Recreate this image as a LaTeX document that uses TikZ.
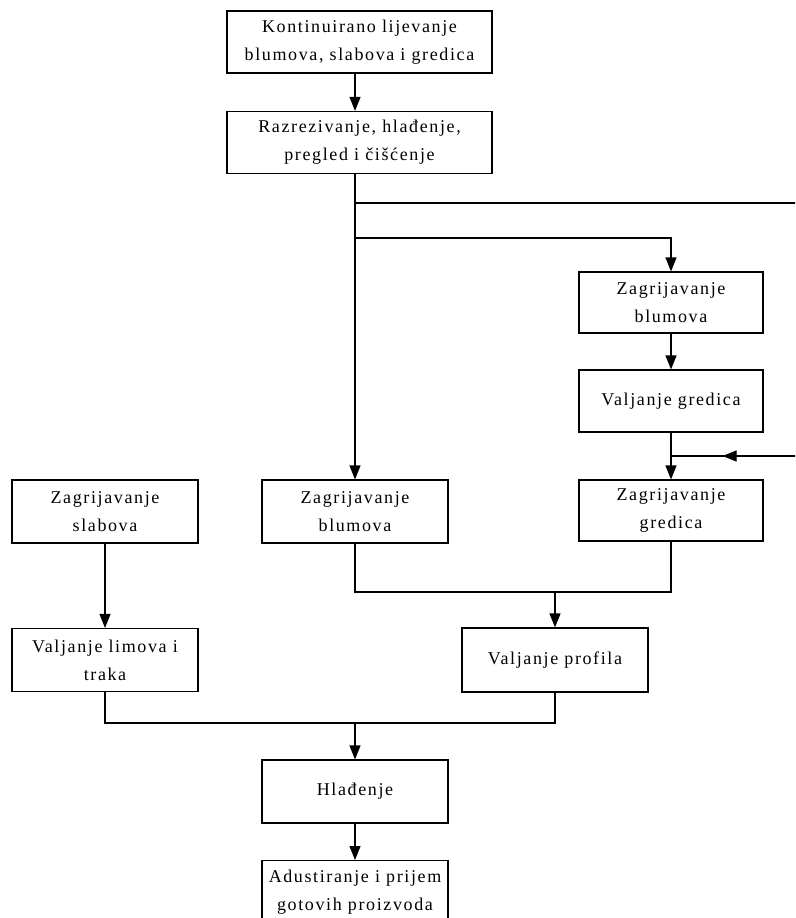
\documentclass[tikz,border=0pt]{standalone}
\usepackage{fontspec}
\setmainfont[LetterSpace=9]{Liberation Serif}
\usetikzlibrary{arrows.meta,decorations.markings}
\begin{document}
\begin{tikzpicture}[x=1pt,y=-1pt,
  box/.style={draw,line width=1.2pt,align=center,inner sep=2pt,font=\fontsize{18}{28}\selectfont},
  conn/.style={line width=1.2pt},
  arr/.style={conn,-{Triangle[length=14pt,width=11pt]}}]
\clip (0,0) rectangle (795,918);
\useasboundingbox (0,0) rectangle (795,918);
\node[box,minimum width=265pt,minimum height=62pt] (b1) at (359.5,42) {Kontinuirano lijevanje\\blumova, slabova i gredica};
\node[box,minimum width=265pt,minimum height=62pt] (b2) at (359.5,142.5) {Razrezivanje, hlađenje,\\pregled i čišćenje};
\node[box,minimum width=184pt,minimum height=61pt] (b3) at (671,302.5) {Zagrijavanje\\blumova};
\node[box,minimum width=184pt,minimum height=62pt] (b4) at (671,401) {Valjanje gredica};
\node[box,minimum width=184pt,minimum height=61pt] (b5) at (671,510.5) {Zagrijavanje\\gredica};
\node[box,minimum width=186pt,minimum height=63pt] (b6) at (105,511.5) {Zagrijavanje\\slabova};
\node[box,minimum width=186pt,minimum height=63pt] (b7) at (105,660) {Valjanje limova i\\traka};
\node[box,minimum width=186pt,minimum height=63pt] (b8) at (355,511.5) {Zagrijavanje\\blumova};
\node[box,minimum width=186pt,minimum height=64pt] (b9) at (555,660) {Valjanje profila};
\node[box,minimum width=186pt,minimum height=63pt] (b10) at (355,791.5) {Hlađenje};
\node[box,minimum width=186pt,minimum height=64pt,anchor=north] (b11) at (355,860) {Adustiranje i prijem\\gotovih proizvoda};
\coordinate (j1) at (355,203);
\coordinate (j2) at (355,238);
\coordinate (e1) at (800,203);
\coordinate (e2) at (800,456);
\coordinate (j3) at (671,456);
\coordinate (j4) at (355,592);
\coordinate (j5) at (555,592);
\coordinate (j6) at (105,723);
\coordinate (j7) at (355,723);
\draw[arr] (b1.south -| b8) -- (b2.north -| b8);
\draw[arr] (b2.south -| b8) -- (b8.north);
\draw[conn] (j1) -- (e1);
\draw[arr] (j2) -- (j2 -| b3) -- (b3.north);
\draw[arr] (b3) -- (b4);
\draw[arr] (b4) -- (b5);
\draw[conn,postaction={decorate},decoration={markings,mark=at position 0.6 with {\arrow{Triangle[length=14pt,width=11pt]}}}] (e2) -- (j3);
\draw[arr] (b6) -- (b7);
\draw[conn] (b8.south) -- (j4) -- (j4 -| b5) -- (b5.south);
\draw[arr] (j5) -- (b9.north);
\draw[conn] (b7.south) -- (j6) -- (j6 -| b9) -- (b9.south);
\draw[arr] (j7) -- (b10.north);
\draw[arr] (b10) -- (b11);
\end{tikzpicture}
\end{document}
